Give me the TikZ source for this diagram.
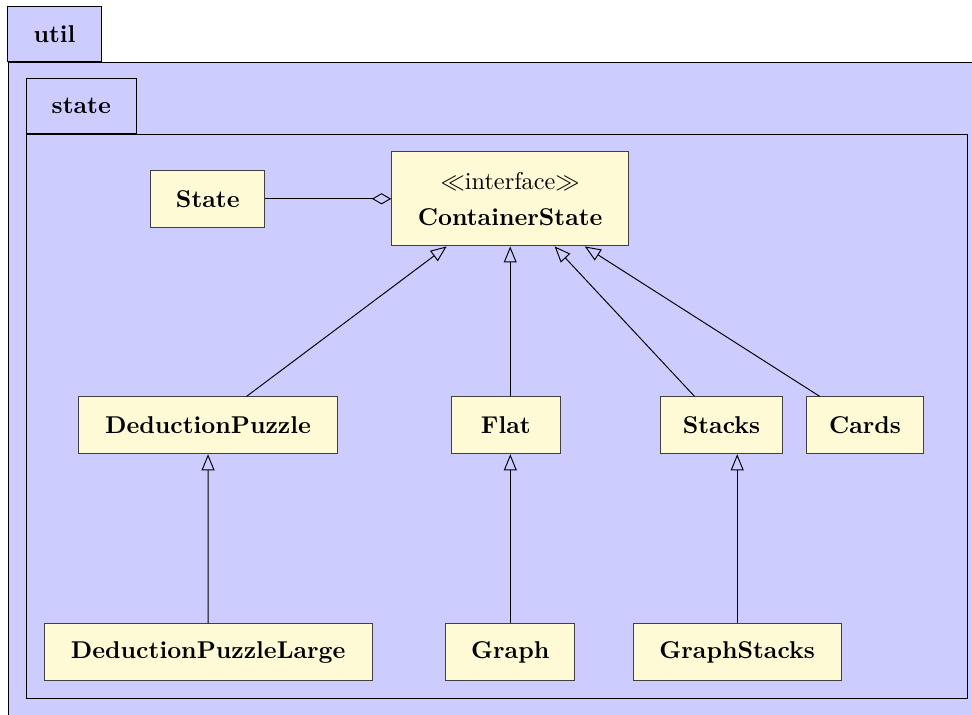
\documentclass[tikz,border=0pt]{standalone}
\usetikzlibrary{arrows.meta}
\definecolor{pkgfill}{rgb}{0.8,0.8,1}
\definecolor{clsfill}{rgb}{1,0.98,0.84}
\tikzset{
  pkgtab/.style={draw=black, fill=pkgfill, line width=0.4pt, inner sep=0pt,
    minimum height=23pt, font=\bfseries},
  pkgbody/.style={draw=black, fill=pkgfill, line width=0.4pt},
  cls/.style={draw=black!75, fill=clsfill, line width=0.4pt, inner sep=0pt,
    minimum height=23.4pt, font=\bfseries, align=center},
  gen/.style={draw=black, line width=0.4pt, -{Triangle[open,length=6.6pt,width=5.3pt]}},
  agg/.style={draw=black, line width=0.4pt, -{Diamond[open,length=8pt,width=4.6pt]}}
}
\begin{document}
\begin{tikzpicture}[x=0.4115pt, y=-0.4115pt]
\fill[white] (0,0) rectangle (972,715);
\useasboundingbox (0,0) rectangle (972,715);
% package util
\fill[pkgfill] (8,62) rectangle (972,715);
\draw[black, line width=0.4pt] (8,715.5) -- (8,62) -- (972.5,62);
\node[pkgtab, minimum width=38.3pt, minimum height=23pt] (util) at (54.5,34) {util};
% package state
\draw[pkgbody] (26.3,134) rectangle (967.7,698);
\node[pkgtab, minimum width=45.3pt] (state) at (81.3,106) {state};
% classes
\node[cls, minimum width=47pt, minimum height=23.2pt] (st) at (207.8,198.8) {State};
\node[cls, minimum width=97.5pt, minimum height=38.8pt] (cs) at (510.2,198.8)
  {{\mdseries$\ll$interface$\gg$}\\[3pt]ContainerState};
\node[cls, minimum width=106.2pt] (dp) at (208,425.3) {DeductionPuzzle};
\node[cls, minimum width=44.6pt] (flat) at (505.8,425.3) {Flat};
\node[cls, minimum width=50pt] (stacks) at (721.5,425.3) {Stacks};
\node[cls, minimum width=48pt] (cards) at (865,425.3) {Cards};
\node[cls, minimum width=135.1pt] (dpl) at (208.2,652.2) {DeductionPuzzleLarge};
\node[cls, minimum width=53.2pt] (graph) at (510.3,652.2) {Graph};
\node[cls, minimum width=85.5pt] (gs) at (737.2,652.2) {GraphStacks};
% relations
\draw[agg] (st) -- (cs);
\draw[gen] (dp) -- (cs);
\draw[gen] (flat.north -| cs.south) -- (cs.south);
\draw[gen] (stacks) -- (cs);
\draw[gen] (cards) -- (cs);
\draw[gen] (dpl) -- (dp);
\draw[gen] (graph.north) -- (graph.north |- flat.south);
\draw[gen] (gs.north) -- (gs.north |- stacks.south);
\end{tikzpicture}
\end{document}
